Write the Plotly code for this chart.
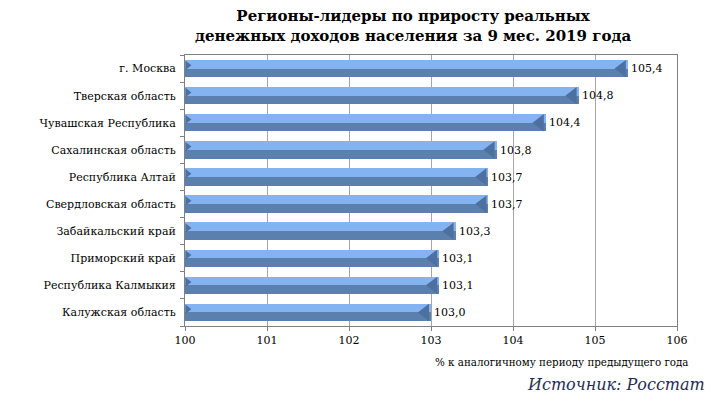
import plotly.graph_objects as go

regions = ["г. Москва", "Тверская область", "Чувашская Республика", "Сахалинская область",
           "Республика Алтай", "Свердловская область", "Забайкальский край",
           "Приморский край", "Республика Калмыкия", "Калужская область"]
values = [105.4, 104.8, 104.4, 103.8, 103.7, 103.7, 103.3, 103.1, 103.1, 103.0]
x_ticks = [100, 101, 102, 103, 104, 105, 106]
base_value = 100

FONT = "DejaVu Serif"
LIGHT = "#84b3f1"
DARK = "#5b80ae"
CAP = "#4d70a0"

pos = list(range(len(regions)))
labels = [f"{v:.1f}".replace(".", ",") for v in values]
lengths = [v - base_value for v in values]

fig = go.Figure()
fig.add_trace(go.Bar(
    y=pos, x=lengths, base=base_value, orientation="h", width=0.64,
    marker=dict(color=DARK, line=dict(width=0)),
    text=labels, textposition="outside", cliponaxis=False,
    textfont=dict(family=FONT, size=11, color="black"),
    hoverinfo="skip", showlegend=False,
))
fig.add_trace(go.Bar(
    y=pos, x=lengths, base=base_value, orientation="h", width=0.32, offset=-0.32,
    marker=dict(color=LIGHT, line=dict(width=0)),
    hoverinfo="skip", showlegend=False,
))
fig.add_trace(go.Scatter(
    x=[v - 0.07 for v in values], y=pos, mode="markers",
    marker=dict(symbol="triangle-left", size=15, color=CAP, line=dict(width=0)),
    hoverinfo="skip", showlegend=False, cliponaxis=False,
))
fig.add_trace(go.Scatter(
    x=[base_value + 0.03] * len(values), y=[p - 0.12 for p in pos], mode="markers",
    marker=dict(symbol="triangle-right", size=8, color=CAP, line=dict(width=0)),
    hoverinfo="skip", showlegend=False, cliponaxis=False,
))

fig.update_layout(
    width=712, height=395,
    margin=dict(l=177, r=43, t=47, b=77),
    paper_bgcolor="white", plot_bgcolor="white",
    barmode="overlay", bargap=0,
    font=dict(family=FONT, size=11, color="black"),
    xaxis=dict(
        range=[x_ticks[0], x_ticks[-1]], tickvals=x_ticks,
        showgrid=True, gridcolor="#a6a6a6", gridwidth=1,
        showline=True, linecolor="#808080", linewidth=1, mirror=True,
        ticks="outside", ticklen=4, tickcolor="#808080",
        tickfont=dict(family=FONT, size=11), zeroline=False,
    ),
    yaxis=dict(
        range=[len(regions) - 0.5, -0.5], tickvals=pos, ticktext=regions,
        showgrid=False, zeroline=False,
        showline=True, linecolor="#808080", linewidth=1, mirror=True,
        ticks="", ticklabelstandoff=6,
        minor=dict(tickvals=[p - 0.5 for p in pos] + [len(regions) - 0.5],
                   ticks="outside", ticklen=4, tickcolor="#808080", showgrid=False),
        tickfont=dict(family=FONT, size=11),
    ),
    annotations=[
        dict(text="<b>Регионы-лидеры по приросту реальных<br>денежных доходов населения за 9 мес. 2019 года</b>",
             xref="paper", yref="paper", x=0.463, y=1.0, yshift=50, xanchor="center", yanchor="top",
             showarrow=False, font=dict(family=FONT, size=15, color="black")),
        dict(text="% к аналогичному периоду предыдущего года",
             xref="paper", yref="paper", x=1.0, xshift=14, y=0, yshift=-28, xanchor="right", yanchor="top",
             showarrow=False, font=dict(family=FONT, size=10.3, color="black")),
        dict(text="<i>Источник: Росстат</i>",
             xref="paper", yref="paper", x=1.0, xshift=30, y=0, yshift=-47, xanchor="right", yanchor="top",
             showarrow=False, font=dict(family=FONT, size=16, color="#1f2f5a")),
    ],
)

fig.write_html("out.html")
